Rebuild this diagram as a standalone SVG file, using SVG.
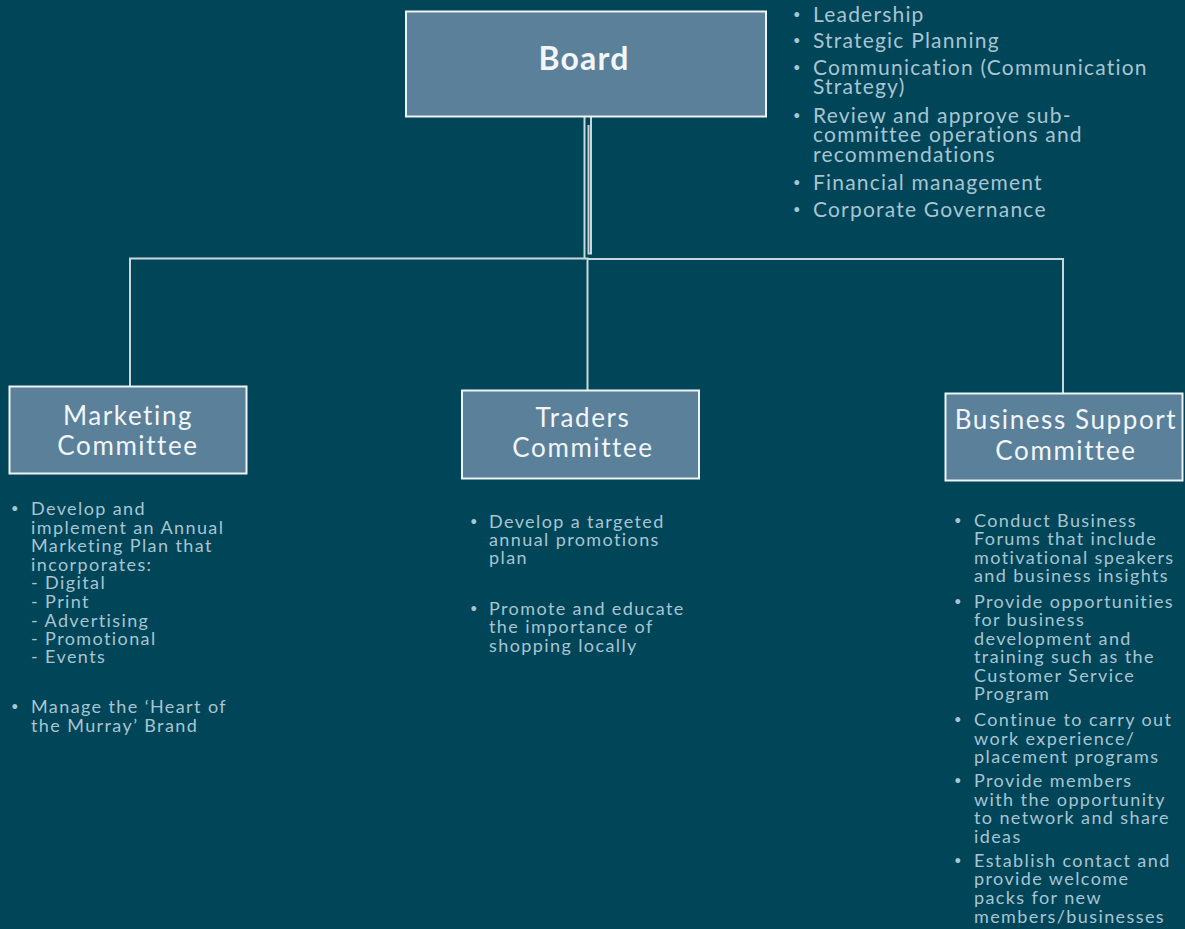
<svg xmlns="http://www.w3.org/2000/svg" width="1185" height="929" viewBox="0 0 1185 929">
<style>
.box{fill:#5b809a;stroke:#eef3f5;stroke-width:2}
.title{font-family:Lato,"Open Sans",sans-serif;font-size:26px;letter-spacing:1.6px;fill:#f2f6f8;text-anchor:middle}
.bold{font-weight:bold;font-size:32px;letter-spacing:1.2px}
.b{font-family:Lato,"Open Sans",sans-serif;fill:#a9c4d2}
.top{font-size:21px;letter-spacing:1.2px}
.s{font-size:18px;letter-spacing:1.4px}
.d{font-size:13px}
.con{fill:none;stroke:#c9d7dd;stroke-width:2}
</style>
<rect width="1185" height="929" fill="#004658"/>
<g id="connectors">
<path class="con" d="M130,392 V258.5 H587.5 V391"/>
<path class="con" d="M587.5,259 H1063 V394"/>
<path class="con" stroke-width="1.5" d="M584.5,117 V258"/>
<path class="con" stroke-width="1.5" d="M591,117 V253.5 H588.5 V125"/>
</g>
<g id="board">
<rect class="box" x="406" y="11.5" width="360" height="105"/>
<text class="title bold" x="584" y="70">Board</text>
</g>
<g id="board-duties" class="b top">
<text class="d" x="793" y="19">•</text><text x="813" y="22">Leadership</text>
<text class="d" x="793" y="45">•</text><text x="813" y="48">Strategic Planning</text>
<text class="d" x="793" y="72">•</text><text x="813" y="75">Communication (Communication</text>
<text x="813" y="94">Strategy)</text>
<text class="d" x="793" y="120">•</text><text x="813" y="123">Review and approve sub-</text>
<text x="813" y="142">committee operations and</text>
<text x="813" y="162">recommendations</text>
<text class="d" x="793" y="187">•</text><text x="813" y="190">Financial management</text>
<text class="d" x="793" y="214">•</text><text x="813" y="217">Corporate Governance</text>
</g>
<g id="marketing">
<rect class="box" x="9.5" y="386.5" width="237" height="87"/>
<text class="title" x="128" y="425">Marketing</text>
<text class="title" x="128" y="455">Committee</text>
</g>
<g id="marketing-duties" class="b s">
<text class="d" x="11" y="513">•</text><text x="31" y="515">Develop and</text>
<text x="31" y="534">implement an Annual</text>
<text x="31" y="552">Marketing Plan that</text>
<text x="31" y="571">incorporates:</text>
<text x="31" y="589">- Digital</text>
<text x="31" y="608">- Print</text>
<text x="31" y="627">- Advertising</text>
<text x="31" y="645">- Promotional</text>
<text x="31" y="663">- Events</text>
<text class="d" x="11" y="711">•</text><text x="31" y="713">Manage the ‘Heart of</text>
<text x="31" y="732">the Murray’ Brand</text>
</g>
<g id="traders">
<rect class="box" x="462" y="390.5" width="237" height="88"/>
<text class="title" x="583" y="427">Traders</text>
<text class="title" x="583" y="457">Committee</text>
</g>
<g id="traders-duties" class="b s">
<text class="d" x="470" y="526">•</text><text x="489" y="528">Develop a targeted</text>
<text x="489" y="546">annual promotions</text>
<text x="489" y="564">plan</text>
<text class="d" x="470" y="613">•</text><text x="489" y="615">Promote and educate</text>
<text x="489" y="633">the importance of</text>
<text x="489" y="652">shopping locally</text>
</g>
<g id="business">
<rect class="box" x="945.5" y="393.5" width="237" height="87"/>
<text class="title" x="1066" y="429">Business Support</text>
<text class="title" x="1066" y="460">Committee</text>
</g>
<g id="business-duties" class="b s">
<text class="d" x="954" y="525">•</text><text x="974" y="527">Conduct Business</text>
<text x="974" y="545">Forums that include</text>
<text x="974" y="564">motivational speakers</text>
<text x="974" y="582">and business insights</text>
<text class="d" x="954" y="606">•</text><text x="974" y="608">Provide opportunities</text>
<text x="974" y="626">for business</text>
<text x="974" y="645">development and</text>
<text x="974" y="663">training such as the</text>
<text x="974" y="682">Customer Service</text>
<text x="974" y="700">Program</text>
<text class="d" x="954" y="724">•</text><text x="974" y="726">Continue to carry out</text>
<text x="974" y="745">work experience/</text>
<text x="974" y="763">placement programs</text>
<text class="d" x="954" y="785">•</text><text x="974" y="787">Provide members</text>
<text x="974" y="806">with the opportunity</text>
<text x="974" y="824">to network and share</text>
<text x="974" y="843">ideas</text>
<text class="d" x="954" y="865">•</text><text x="974" y="867">Establish contact and</text>
<text x="974" y="885">provide welcome</text>
<text x="974" y="904">packs for new</text>
<text x="974" y="923">members/businesses</text>
</g>
</svg>
